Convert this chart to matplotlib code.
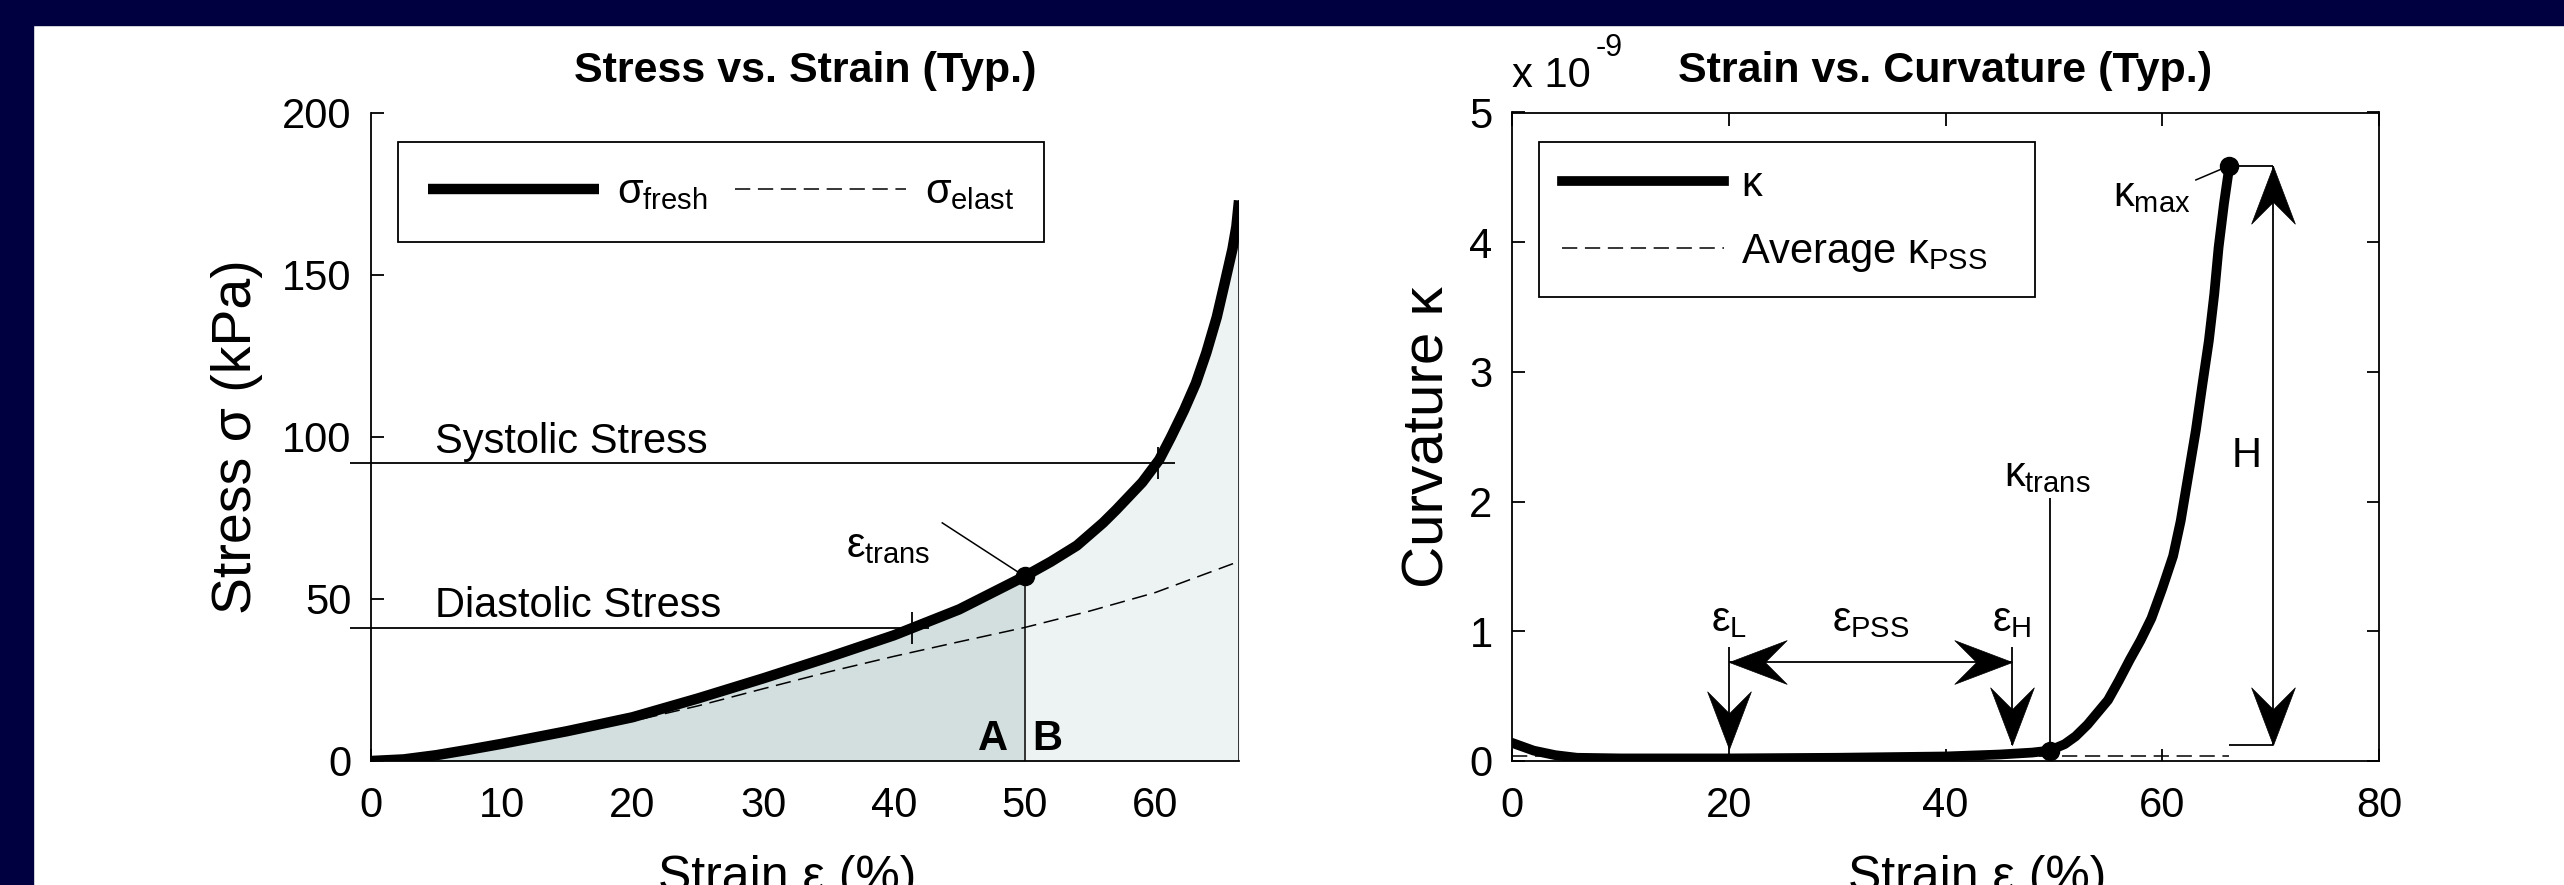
import numpy as np
import matplotlib
matplotlib.use("Agg")
import matplotlib.pyplot as plt
from matplotlib.patches import Rectangle
from matplotlib.path import Path

plt.rcParams['font.family'] = ['Liberation Sans', 'DejaVu Sans']
plt.rcParams['mathtext.fontset'] = 'custom'
plt.rcParams['mathtext.rm'] = 'Liberation Sans'
plt.rcParams['mathtext.it'] = 'Liberation Sans'
plt.rcParams['mathtext.bf'] = 'Liberation Sans:bold'

# ---- data: stress vs strain ----
strain = np.array([0, 2.5, 5, 7.5, 10, 15, 20, 25, 30, 35, 40, 45, 50,
                   52, 54, 55, 56, 57, 59, 60.3, 61.2, 62.2, 63.1, 63.9, 64.7,
                   65.3, 65.9, 66.2, 66.4])
sigma_fresh = np.array([0, 0.5, 1.8, 3.5, 5.3, 9.2, 13.5, 19.3, 25.5, 32.0, 38.8, 46.8, 57.0,
                        61.5, 66.5, 70.0, 73.5, 77.5, 86.0, 93.0, 100.0, 108.3, 116.6, 126.0,
                        137.0, 147.4, 158.0, 165.0, 173.0])
strain_e = np.array([0, 5, 10, 15, 20, 25, 30, 35, 40, 45, 50, 55, 60, 66.4])
sigma_elast = np.array([0, 1.8, 5.0, 8.8, 12.3, 17.0, 22.3, 27.5, 32.3, 36.8, 41.2, 46.3, 52.0, 61.6])
systolic = 92
diastolic = 41
sys_cross = 60.2
dia_cross = 41.4
eps_trans = 50

# ---- data: curvature vs strain (x 1e-9) ----
strain_k = np.array([0, 2, 4, 6, 10, 20, 30, 40, 45, 48, 49.6, 51, 52, 53.1, 54, 55,
                     56, 57, 58, 59, 60, 61, 61.7, 62.4, 63.1, 63.7, 64.3, 64.8,
                     65.2, 65.7, 66.2])
kappa = np.array([0.14, 0.08, 0.045, 0.025, 0.02, 0.02, 0.025, 0.035, 0.05, 0.065, 0.08, 0.13,
                  0.19, 0.28, 0.37, 0.47, 0.62, 0.78, 0.93, 1.10, 1.33, 1.58, 1.85, 2.2,
                  2.55, 2.9, 3.24, 3.6, 3.96, 4.3, 4.59])
kappa_pss = 0.04
eps_L, eps_H = 20, 46.1
k_trans = (49.6, 0.08)
k_max = (66.2, 4.59)
H_x = 70.2
H_low = 0.12

NAVY = '#000040'
FILL_A = '#d3dfdf'
FILL_B = '#edf2f2'

fig = plt.figure(figsize=(25.64, 8.85), dpi=100)
fig.add_artist(Rectangle((0, 1 - 25 / 885), 1, 25 / 885, transform=fig.transFigure,
                         color=NAVY, zorder=10))
fig.add_artist(Rectangle((0, 0), 33 / 2564, 1, transform=fig.transFigure,
                         color=NAVY, zorder=10))

TICK = 30
TXT = 30

# ================= left: stress vs strain =================
ax1 = fig.add_axes([371 / 2564, 1 - 761 / 885, 868 / 2564, 648 / 885])
ax1.set_axisbelow(True)
a = strain <= eps_trans
b = strain >= eps_trans
ax1.fill_between(strain[a], 0, sigma_fresh[a], color=FILL_A, lw=0)
ax1.fill_between(strain[b], 0, sigma_fresh[b], color=FILL_B, lw=0)
s_trans = sigma_fresh[strain == eps_trans][0]
ax1.vlines([eps_trans, strain[-1]], 0, [s_trans, sigma_fresh[-1]], color='#333333', lw=1.4)

l_fresh, = ax1.plot(strain, sigma_fresh, color='k', lw=7.5, solid_capstyle='butt',
                    solid_joinstyle='round', label=r'$\sigma_{\mathrm{fresh}}$')
l_elast, = ax1.plot(strain_e, sigma_elast, color='k', lw=1.1, dashes=(10, 5),
                    label=r'$\sigma_{\mathrm{elast}}$')

for yv, xe in [(systolic, 61.5), (diastolic, 42.7)]:
    ln = ax1.hlines(yv, -1.6, xe, color='k', lw=1.3)
    ln.set_clip_on(False)
ax1.vlines([sys_cross, dia_cross], [systolic - 5, diastolic - 5], [systolic + 5, diastolic + 5],
           color='k', lw=1.3)
ax1.text(4.9, systolic + 3, 'Systolic Stress', fontsize=TXT, va='baseline')
ax1.text(4.9, diastolic + 3.4, 'Diastolic Stress', fontsize=TXT, va='baseline')

ax1.plot([eps_trans], [s_trans], 'o', color='k', ms=13)
ax1.plot([43.7, eps_trans], [73.5, s_trans], color='k', lw=1.1)
ax1.text(36.3, 63, r'$ε_{\mathrm{trans}}$', fontsize=TXT, va='baseline')
ax1.text(47.6, 3.4, 'A', fontsize=TXT, fontweight='bold', ha='center', va='baseline')
ax1.text(51.7, 3.4, 'B', fontsize=TXT, fontweight='bold', ha='center', va='baseline')

ax1.set_xlim(0, strain[-1])
ax1.set_ylim(0, 200)
ax1.set_xticks(range(0, 61, 10))
ax1.set_yticks(range(0, 201, 50))
ax1.spines['top'].set_visible(False)
ax1.spines['right'].set_visible(False)
for s in ax1.spines.values():
    s.set_linewidth(1.3)
ax1.tick_params(direction='in', length=9, width=1.3, labelsize=TICK)
ax1.tick_params(axis='x', pad=18)
ax1.tick_params(axis='y', pad=14)
ax1.set_title('Stress vs. Strain (Typ.)', fontsize=31, fontweight='bold', pad=22)
ax1.set_ylabel('Stress σ (kPa)', fontsize=40, labelpad=14)
ax1.set_xlabel('Strain ε (%)', fontsize=36, labelpad=21)
ax1.xaxis.label.set_x(0.479)
ax1.legend(handles=[l_fresh, l_elast], ncol=2, loc='upper left',
           bbox_to_anchor=(0.031, 0.801, 0.744, 0.154), mode='expand',
           fontsize=TXT, frameon=True, fancybox=False, edgecolor='k', framealpha=1,
           handlelength=4.1, handletextpad=0.45, borderpad=0.72, borderaxespad=0)
ax1.get_legend().get_frame().set_linewidth(1.3)

# ================= right: strain vs curvature =================
ax2 = fig.add_axes([1512 / 2564, 1 - 761 / 885, 867 / 2564, 648.5 / 885])


def dart(rot):
    # filled arrowhead with notched back, tip at the origin
    v = np.array([[0, 0], [22, 58], [0, 36], [-22, 58], [0, 0]], float)
    t = np.radians(rot)
    r = np.array([[np.cos(t), -np.sin(t)], [np.sin(t), np.cos(t)]])
    return Path(v @ r.T, [Path.MOVETO, Path.LINETO, Path.LINETO, Path.LINETO, Path.CLOSEPOLY])


DOWN, UP, LEFT, RIGHT = dart(0), dart(180), dart(-90), dart(90)
HS = 83


def head(x, y, m):
    ax2.plot([x], [y], marker=m, ms=HS, color='k', mew=0.5, clip_on=False)


l_k, = ax2.plot(strain_k, kappa, color='k', lw=7, solid_joinstyle='round', label=r'$\kappa$')
l_avg, = ax2.plot([0, k_max[0]], [kappa_pss, kappa_pss], color='k', lw=1.1, dashes=(10, 5),
                  label=r'Average $\kappa_{\mathrm{PSS}}$')
ax2.plot(*k_trans, 'o', color='k', ms=13)
ax2.plot(*k_max, 'o', color='k', ms=13)

# eps_L / eps_H / eps_PSS arrows
ax2.vlines([eps_L, eps_H], [0.09, H_low], 0.88, color='k', lw=1.3)
head(eps_L, 0.09, DOWN)
head(eps_H, H_low, DOWN)
ax2.hlines(0.76, eps_L, eps_H, color='k', lw=1.3)
head(eps_L, 0.76, LEFT)
head(eps_H, 0.76, RIGHT)
ax2.text(eps_L, 1.0, r'$ε_{\mathrm{L}}$', fontsize=TXT, ha='center', va='baseline')
ax2.text(33.1, 1.0, r'$ε_{\mathrm{PSS}}$', fontsize=TXT, ha='center', va='baseline')
ax2.text(eps_H, 1.0, r'$ε_{\mathrm{H}}$', fontsize=TXT, ha='center', va='baseline')

# kappa_trans
ax2.vlines(k_trans[0], k_trans[1], 2.03, color='k', lw=1.3)
ax2.text(49.4, 2.12, r'$\kappa_{\mathrm{trans}}$', fontsize=TXT, ha='center', va='baseline')

# kappa_max
ax2.plot([63.1, k_max[0]], [4.48, k_max[1]], color='k', lw=1.1)
ax2.text(59.0, 4.28, r'$\kappa_{\mathrm{max}}$', fontsize=TXT, ha='center', va='baseline')

# H
ax2.hlines([k_max[1], H_low], k_max[0], H_x, color='k', lw=1.3)
ax2.vlines(H_x, H_low, k_max[1], color='k', lw=1.3)
head(H_x, k_max[1], UP)
head(H_x, H_low, DOWN)
ax2.text(67.8, 2.27, 'H', fontsize=TXT, ha='center', va='baseline')

ax2.set_xlim(0, 80)
ax2.set_ylim(0, 5)
ax2.set_xticks(range(0, 81, 20))
ax2.set_yticks(range(0, 6))
for s in ax2.spines.values():
    s.set_linewidth(1.3)
ax2.tick_params(direction='in', length=9, width=1.3, labelsize=TICK,
                top=True, right=True)
ax2.tick_params(axis='x', pad=18)
ax2.tick_params(axis='y', pad=14)
ax2.set_title('Strain vs. Curvature (Typ.)', fontsize=31, fontweight='bold', pad=22)
ax2.text(0, 1.039, 'x 10', transform=ax2.transAxes, fontsize=TICK,
         ha='left', va='baseline')
ax2.text(0.097, 1.087, '-9', transform=ax2.transAxes, fontsize=22,
         ha='left', va='baseline')
ax2.set_ylabel('Curvature κ', fontsize=42, labelpad=10)
ax2.set_xlabel('Strain ε (%)', fontsize=36, labelpad=21)
ax2.xaxis.label.set_x(0.537)
ax2.legend(handles=[l_k, l_avg], loc='upper left',
           bbox_to_anchor=(0.031, 0.713, 0.572, 0.242), mode='expand',
           fontsize=TXT, frameon=True, fancybox=False, edgecolor='k', framealpha=1,
           handlelength=3.9, handletextpad=0.4, borderpad=0.55, labelspacing=0.65,
           borderaxespad=0)
ax2.get_legend().get_frame().set_linewidth(1.3)

fig.savefig('out.png', dpi=100, facecolor='white')
